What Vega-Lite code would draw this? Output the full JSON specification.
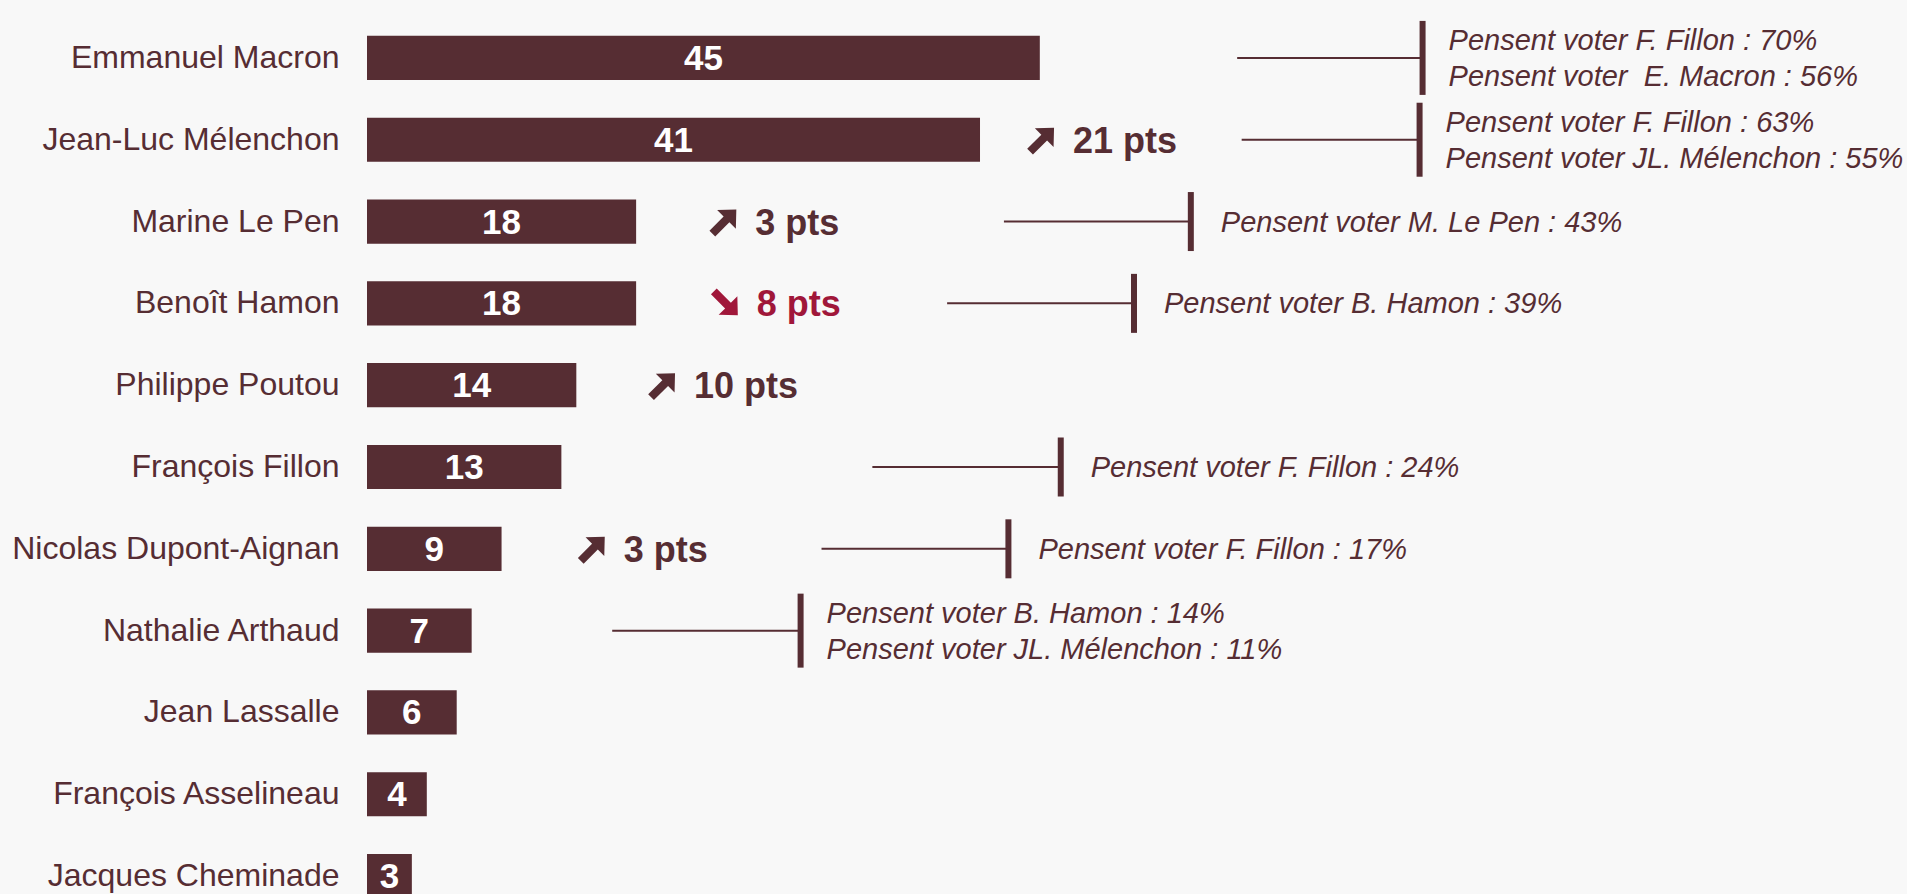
{
  "$schema": "https://vega.github.io/schema/vega-lite/v6.json",
  "autosize": {"type": "none"},
  "padding": {"left": 367, "top": 17, "right": 0, "bottom": 0},
  "width": 1540,
  "height": 900,
  "background": "#f8f8f8",
  "config": {"view": {"stroke": null}, "font": "Liberation Sans"},
  "datasets": {
    "bars": [
      {"candidat": "Emmanuel Macron", "score": 45},
      {"candidat": "Jean-Luc Mélenchon", "score": 41},
      {"candidat": "Marine Le Pen", "score": 18},
      {"candidat": "Benoît Hamon", "score": 18},
      {"candidat": "Philippe Poutou", "score": 14},
      {"candidat": "François Fillon", "score": 13},
      {"candidat": "Nicolas Dupont-Aignan", "score": 9},
      {"candidat": "Nathalie Arthaud", "score": 7},
      {"candidat": "Jean Lassalle", "score": 6},
      {"candidat": "François Asselineau", "score": 4},
      {"candidat": "Jacques Cheminade", "score": 3}
    ],
    "evol": [
      {"candidat": "Jean-Luc Mélenchon", "label": "21 pts", "sens": "hausse", "at": 45.15},
      {"candidat": "Marine Le Pen", "label": "3 pts", "sens": "hausse", "at": 23.9},
      {"candidat": "Benoît Hamon", "label": "8 pts", "sens": "baisse", "at": 24.0},
      {"candidat": "Philippe Poutou", "label": "10 pts", "sens": "hausse", "at": 19.8},
      {"candidat": "Nicolas Dupont-Aignan", "label": "3 pts", "sens": "hausse", "at": 15.1}
    ],
    "notes": [
      {"candidat": "Emmanuel Macron", "from": 58.2, "to": 70.6, "lines": 2, "note": "\u00a0Pensent voter F. Fillon : 70%\nPensent voter\u00a0 E. Macron : 56%"},
      {"candidat": "Jean-Luc Mélenchon", "from": 58.5, "to": 70.4, "lines": 2, "note": "Pensent voter F. Fillon : 63%\nPensent voter JL. Mélenchon : 55%"},
      {"candidat": "Marine Le Pen", "from": 42.6, "to": 55.1, "lines": 1, "note": "Pensent voter M. Le Pen : 43%"},
      {"candidat": "Benoît Hamon", "from": 38.8, "to": 51.3, "lines": 1, "note": "Pensent voter B. Hamon : 39%"},
      {"candidat": "François Fillon", "from": 33.8, "to": 46.4, "lines": 1, "note": "Pensent voter F. Fillon : 24%"},
      {"candidat": "Nicolas Dupont-Aignan", "from": 30.4, "to": 42.9, "lines": 1, "note": "Pensent voter F. Fillon : 17%"},
      {"candidat": "Nathalie Arthaud", "from": 16.4, "to": 29.0, "lines": 2, "note": "\u00a0Pensent voter B. Hamon : 14%\nPensent voter JL. Mélenchon : 11%"}
    ]
  },
  "encoding": {
    "y": {
      "field": "candidat",
      "type": "nominal",
      "scale": {
        "domain": ["Emmanuel Macron", "Jean-Luc Mélenchon", "Marine Le Pen", "Benoît Hamon", "Philippe Poutou", "François Fillon", "Nicolas Dupont-Aignan", "Nathalie Arthaud", "Jean Lassalle", "François Asselineau", "Jacques Cheminade"],
        "paddingInner": 0.46,
        "paddingOuter": 0.23
      },
      "axis": {
        "title": null,
        "domain": false,
        "ticks": false,
        "grid": false,
        "labelPadding": 28,
        "labelFontSize": 32,
        "labelFont": "Liberation Sans",
        "labelColor": "#562d33",
        "labelLimit": 400
      }
    }
  },
  "layer": [
    {
      "data": {"name": "bars"},
      "mark": {"type": "bar", "color": "#562d33"},
      "encoding": {
        "x": {"field": "score", "type": "quantitative", "scale": {"domain": [0, 103], "nice": false, "zero": true}, "axis": null}
      }
    },
    {
      "data": {"name": "bars"},
      "transform": [{"calculate": "datum.score / 2", "as": "milieu"}],
      "mark": {"type": "text", "color": "white", "fontWeight": "bold", "fontSize": 35, "align": "center", "baseline": "middle", "dy": 1},
      "encoding": {
        "x": {"field": "milieu", "type": "quantitative"},
        "text": {"field": "score", "type": "quantitative"}
      }
    },
    {
      "data": {"name": "evol"},
      "mark": {"type": "point", "filled": true, "opacity": 1, "strokeWidth": 0, "size": 1150,
               "shape": "M0,-1 L0.78,-0.18 L0.24,-0.18 L0.24,1 L-0.24,1 L-0.24,-0.18 L-0.78,-0.18 Z"},
      "encoding": {
        "x": {"field": "at", "type": "quantitative"},
        "angle": {"field": "sens", "type": "nominal", "scale": {"domain": ["hausse", "baisse"], "range": [45, 135]}, "legend": null},
        "color": {"field": "sens", "type": "nominal", "scale": {"domain": ["hausse", "baisse"], "range": ["#562d33", "#a0173a"]}, "legend": null}
      }
    },
    {
      "data": {"name": "evol"},
      "mark": {"type": "text", "fontWeight": "bold", "fontSize": 36, "align": "left", "baseline": "middle", "dy": 2, "dx": 31},
      "encoding": {
        "x": {"field": "at", "type": "quantitative"},
        "text": {"field": "label"},
        "color": {"field": "sens", "type": "nominal", "scale": {"domain": ["hausse", "baisse"], "range": ["#562d33", "#a0173a"]}, "legend": null}
      }
    },
    {
      "data": {"name": "notes"},
      "mark": {"type": "rule", "color": "#562d33", "strokeWidth": 2},
      "encoding": {
        "x": {"field": "from", "type": "quantitative"},
        "x2": {"field": "to"}
      }
    },
    {
      "data": {"name": "notes"},
      "mark": {"type": "tick", "color": "#562d33", "thickness": 6, "opacity": 1},
      "encoding": {
        "x": {"field": "to", "type": "quantitative"},
        "size": {"field": "lines", "type": "quantitative", "scale": {"domain": [1, 2], "range": [59, 74], "zero": false}, "legend": null}
      }
    },
    {
      "data": {"name": "notes"},
      "transform": [{"filter": "datum.lines == 1"}],
      "mark": {"type": "text", "fontStyle": "italic", "fontSize": 29, "align": "left", "baseline": "middle", "dx": 30, "dy": 1, "color": "#562d33"},
      "encoding": {
        "x": {"field": "to", "type": "quantitative"},
        "text": {"field": "note"}
      }
    },
    {
      "data": {"name": "notes"},
      "transform": [{"filter": "datum.lines == 2"}],
      "mark": {"type": "text", "fontStyle": "italic", "fontSize": 29, "align": "left", "baseline": "middle", "lineBreak": "\n", "lineHeight": 36, "dx": 26, "dy": -17, "color": "#562d33"},
      "encoding": {
        "x": {"field": "to", "type": "quantitative"},
        "text": {"field": "note"}
      }
    }
  ]
}
